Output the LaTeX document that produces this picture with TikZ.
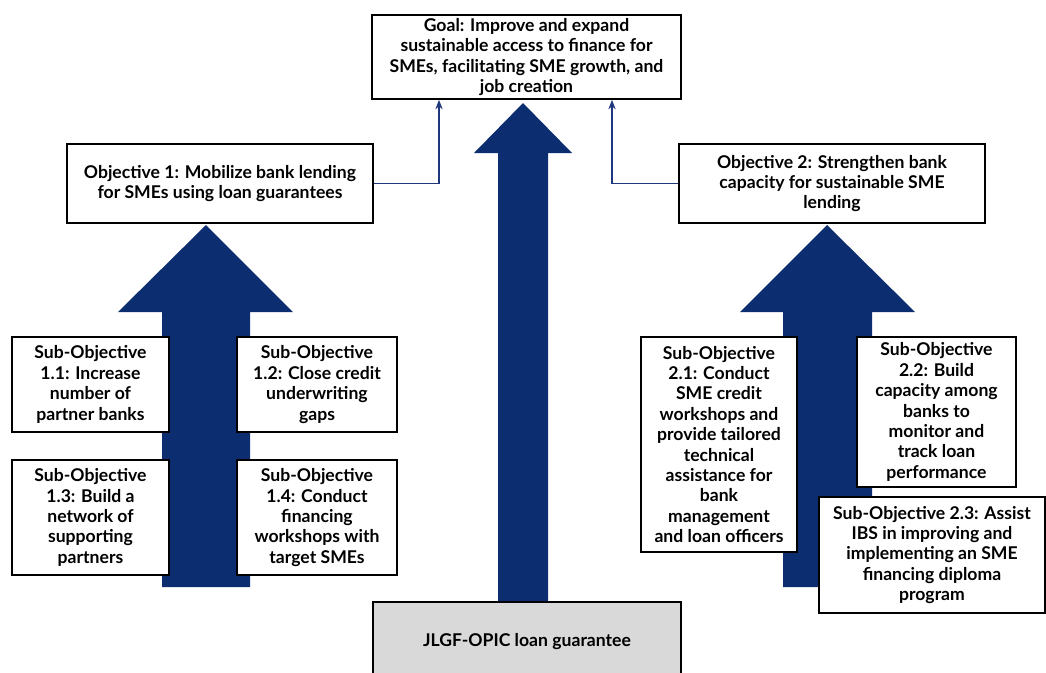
\documentclass[tikz,border=0pt]{standalone}
\usepackage{fontspec}
\setmainfont{Lato}
\usetikzlibrary{arrows.meta}
\definecolor{navy}{RGB}{12,46,112}
\definecolor{connblue}{RGB}{30,55,125}
\definecolor{loangray}{RGB}{217,217,217}
\begin{document}
\begin{tikzpicture}[x=0.75pt,y=-0.75pt,
  box/.style={draw=black,line width=1.4pt,fill=white,align=center,inner sep=0pt,
    font=\fontsize{13.2}{15.3}\selectfont\bfseries},
  bigarrow/.style={fill=navy,draw=none},
  conn/.style={draw=connblue,line width=1pt,-{Stealth[length=7pt,width=5.5pt]}}]
\useasboundingbox (0,0) rectangle (1046,672);
\clip (0,0) rectangle (1046,672);
\fill[white] (0,0) rectangle (1046,672);
% big arrows
\fill[bigarrow] (523,103) -- (474,153) -- (498,153) -- (498,610) -- (548,610) -- (548,153) -- (572,153) -- cycle;
\fill[bigarrow] (206,225) -- (118,312) -- (162,312) -- (162,587) -- (250,587) -- (250,312) -- (293,312) -- cycle;
\fill[bigarrow] (827,225) -- (740,312) -- (783,312) -- (783,587) -- (872,587) -- (872,312) -- (915,312) -- cycle;
% boxes
\node[box,minimum width=309*0.75pt,minimum height=84*0.75pt] (goal) at (526.5,57)
  {Goal: Improve and expand\\sustainable access to finance for\\SMEs, facilitating SME growth, and\\job creation};
\node[box,minimum width=306*0.75pt,minimum height=79*0.75pt] (obj1) at (220,183.5)
  {Objective 1: Mobilize bank lending\\for SMEs using loan guarantees};
\node[box,minimum width=306*0.75pt,minimum height=79*0.75pt] (obj2) at (832,183.5)
  {Objective 2: Strengthen bank\\capacity for sustainable SME\\lending};
\node[box,minimum width=157*0.75pt,minimum height=95*0.75pt] (s11) at (90.5,384.5)
  {Sub-Objective\\1.1: Increase\\number of\\partner banks};
\node[box,minimum width=160*0.75pt,minimum height=95*0.75pt] (s12) at (317,384.5)
  {Sub-Objective\\1.2: Close credit\\underwriting\\gaps};
\node[box,minimum width=157*0.75pt,minimum height=115*0.75pt] (s13) at (90.5,517.5)
  {Sub-Objective\\1.3: Build a\\network of\\supporting\\partners};
\node[box,minimum width=160*0.75pt,minimum height=115*0.75pt] (s14) at (317,517.5)
  {Sub-Objective\\1.4: Conduct\\financing\\workshops with\\target SMEs};
\node[box,minimum width=156*0.75pt,minimum height=215*0.75pt] (s21) at (719,444.5)
  {Sub-Objective\\2.1: Conduct\\SME credit\\workshops and\\provide tailored\\technical\\assistance for\\bank\\management\\and loan officers};
\node[box,minimum width=159*0.75pt,minimum height=150*0.75pt] (s22) at (936.5,412)
  {Sub-Objective\\2.2: Build\\capacity among\\banks to\\monitor and\\track loan\\performance};
\node[box,minimum width=226*0.75pt,minimum height=116*0.75pt] (s23) at (932,555)
  {Sub-Objective 2.3: Assist\\IBS in improving and\\implementing an SME\\financing diploma\\program};
\node[box,fill=loangray,minimum width=308*0.75pt,minimum height=80*0.75pt] (loan) at (527,642)
  {JLGF-OPIC loan guarantee};
% connectors
\coordinate (ga) at (439,0);
\coordinate (gb) at (612,0);
\draw[conn] (obj1.east) -| (ga |- goal.south);
\draw[conn] (obj2.west) -| (gb |- goal.south);
\end{tikzpicture}
\end{document}
